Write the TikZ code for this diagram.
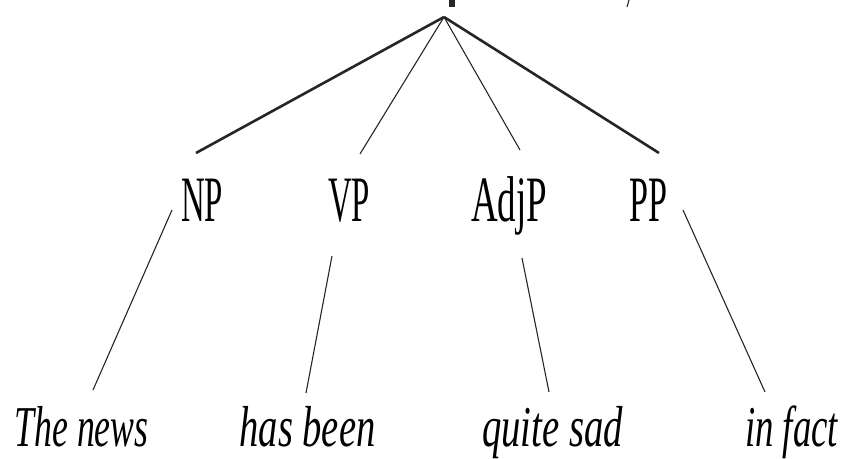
\documentclass[tikz,border=0pt]{standalone}
\usepackage{fontspec}
\usepackage{graphicx}
\setmainfont{Liberation Serif}
\tikzset{
  cat/.style={inner sep=0pt, anchor=base, font=\fontsize{65}{65}\selectfont},
  word/.style={inner sep=0pt, anchor=base, font=\fontsize{58}{58}\selectfont\itshape},
  thickedge/.style={line width=2.6bp, black!85},
  thinedge/.style={line width=1.1bp, black!85},
}
\newcommand{\fitw}[2]{\resizebox{#1bp}{\height}{#2}}
\begin{document}
\begin{tikzpicture}[x=1bp,y=-1bp]
\useasboundingbox (0,0) rectangle (842,459);
% cropped fragments at the top
\fill[black!85] (449,0) rectangle (455,7);
\draw[thinedge] (629,0) -- (627,7);
% root apex
\coordinate (root) at (444,17);
% categories
\node[cat] (np) at (202,222) {\fitw{42}{NP}};
\node[cat] (vp) at (349,222) {\fitw{42}{VP}};
\node[cat] (adjp) at (509,222) {\fitw{76}{AdjP}};
\node[cat] (pp) at (648,222) {\fitw{38}{PP}};
% words
\node[word] (w1) at (81.5,446) {\fitw{134}{The news}};
\node[word] (w2) at (307.5,446) {\fitw{136}{has been}};
\node[word] (w3) at (552.5,446) {\fitw{141}{quite sad}};
\node[word] (w4) at (791.5,446) {\fitw{93}{in fact}};
% edge end points
\coordinate (npT) at (196,153);
\coordinate (vpT) at (360,154);
\coordinate (adjT) at (520,150);
\coordinate (ppT) at (659,153);
\coordinate (npB) at (172,210);
\coordinate (vpB) at (332,256);
\coordinate (adjB) at (522,258);
\coordinate (ppB) at (683,210);
\coordinate (w1T) at (93,390);
\coordinate (w2T) at (306,393);
\coordinate (w3T) at (549,392);
\coordinate (w4T) at (765,392);
% upper edges
\draw[thickedge] (root) -- (npT);
\draw[thinedge] (root) -- (vpT);
\draw[thinedge] (root) -- (adjT);
\draw[thickedge] (root) -- (ppT);
% lower edges
\draw[thinedge] (npB) -- (w1T);
\draw[thinedge] (vpB) -- (w2T);
\draw[thinedge] (adjB) -- (w3T);
\draw[thinedge] (ppB) -- (w4T);
\end{tikzpicture}
\end{document}
